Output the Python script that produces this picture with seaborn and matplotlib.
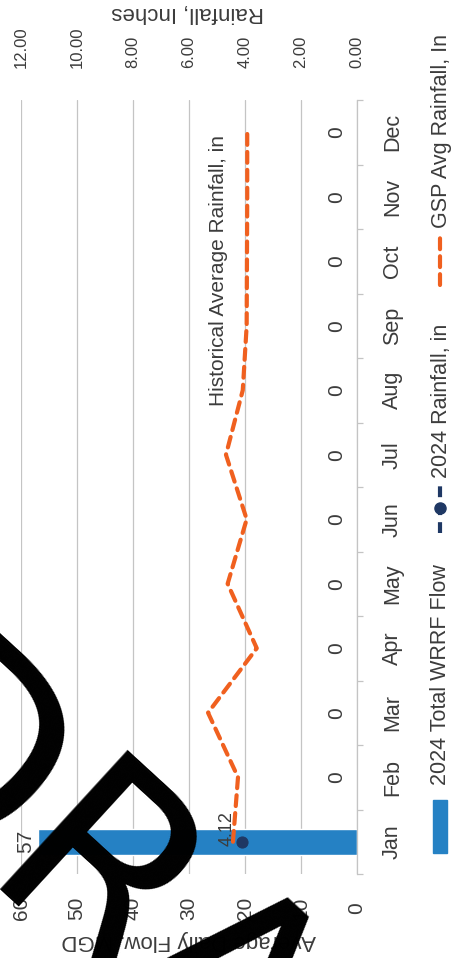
import numpy as np
import pandas as pd
import matplotlib
matplotlib.use("Agg")
import matplotlib.pyplot as plt
import seaborn as sns
from matplotlib import font_manager
from matplotlib.patches import Rectangle
from matplotlib.lines import Line2D

# ---------------- data ----------------
months = ["Jan", "Feb", "Mar", "Apr", "May", "Jun",
          "Jul", "Aug", "Sep", "Oct", "Nov", "Dec"]
flow_2024 = [57, 0, 0, 0, 0, 0, 0, 0, 0, 0, 0, 0]
rain_2024 = [4.12, np.nan, np.nan, np.nan, np.nan, np.nan,
             np.nan, np.nan, np.nan, np.nan, np.nan, np.nan]
gsp_avg_rain = [4.43, 4.25, 5.32, 3.58, 4.62, 3.94,
                4.68, 4.08, 3.94, 3.93, 3.92, 3.92]
flow_ticks = [0, 10, 20, 30, 40, 50, 60]
rain_ticks = [0, 2, 4, 6, 8, 10, 12]
legend_labels = ["2024 Total WRRF Flow", "2024 Rainfall, in", "GSP Avg Rainfall, In"]
flow_axis_label = "Average Daily Flow, MGD"
rain_axis_label = "Rainfall, Inches"
note_text = "Historical Average Rainfall, in"
watermark = "DRAFT"

# ---------------- style ----------------
sns.set_theme(style="white")


def pick(fams):
    for f in fams:
        try:
            font_manager.findfont(font_manager.FontProperties(family=f),
                                  fallback_to_default=False)
            return f
        except Exception:
            pass
    return "DejaVu Sans"


FONT = pick(["Liberation Sans", "DejaVu Sans"])
plt.rcParams["font.family"] = [FONT, "DejaVu Sans"]

BLUE = "#2581C4"
NAVY = "#1F3864"
ORANGE = "#F0601F"
TEXT = "#3C3C3C"
GRID = "#C4C4C4"

W, H = 451, 958
fig = plt.figure(figsize=(W / 100, H / 100), dpi=100, facecolor="white")


def fx(px):
    return px / W


def fy(py):
    return 1 - py / H


ax = fig.add_axes([fx(21), fy(874), fx(357) - fx(21), fy(100) - fy(874)])

df = pd.DataFrame({
    "month": months,
    "pos": np.arange(len(months)),
    "flow": flow_2024,
    "rain": rain_2024,
    "gsp": gsp_avg_rain,
})

sns.barplot(data=df, x="flow", y="month", order=months, orient="h",
            color=BLUE, width=0.4, saturation=1, ax=ax, zorder=2)
ax.set_xlim(60, 0)
ax.set_axisbelow(True)
ax.grid(axis="x", color=GRID, lw=0.9)
ax.grid(axis="y", visible=False)
for s in ["left", "top", "bottom"]:
    ax.spines[s].set_visible(False)
ax.spines["right"].set_color(GRID)
ax.spines["right"].set_linewidth(0.9)

ax.set_xticks(flow_ticks)
ax.set_xticklabels([str(t) for t in flow_ticks], rotation=90,
                   va="center", ha="center")
ax.tick_params(axis="x", length=0, pad=24.5, labelsize=15, labelcolor=TEXT)

ax.yaxis.tick_right()
ax.set_yticks(np.arange(len(months)))
ax.set_yticklabels(months, rotation=90, va="center", ha="left")
ax.set_yticks(np.arange(-0.5, len(months), 1), minor=True)
ax.tick_params(axis="y", which="major", length=0, pad=18,
               labelsize=15.5, labelcolor=TEXT)
ax.tick_params(axis="y", which="minor", length=4.5, width=0.9,
               color=GRID, right=True, left=False)
ax.set_xlabel("")
ax.set_ylabel("")

for i, v in enumerate(flow_2024):
    off = 8.6 if v > 0 else 14.4
    ax.annotate(f"{v:g}", xy=(v, i), xytext=(-off, 0),
                textcoords="offset points", rotation=90,
                ha="center", va="center", fontsize=15, color=TEXT)

# secondary (rainfall) axis
ax2 = ax.twiny()
sns.lineplot(data=df, x="gsp", y="pos", orient="y", sort=False, ax=ax2,
             color=ORANGE, lw=3, linestyle=(0, (2.6, 1.7)),
             dash_capstyle="round", zorder=3)
sns.lineplot(data=df.dropna(subset=["rain"]), x="rain", y="pos",
             orient="y", sort=False, ax=ax2, color=NAVY, lw=3,
             marker="o", markersize=8, markeredgecolor=NAVY,
             linestyle=(0, (2.6, 1.7)), zorder=4)
ax2.set_xlim(12, 0)
ax2.set_xticks(rain_ticks)
ax2.set_xticklabels([f"{t:.2f}" for t in rain_ticks], rotation=90,
                    va="bottom", ha="center")
ax2.tick_params(axis="x", length=0, pad=23, labelsize=12, labelcolor=TEXT)
ax2.set_xlabel("")
ax2.set_ylabel("")
for s in ax2.spines.values():
    s.set_visible(False)
ax2.grid(False)

for i, v in enumerate(rain_2024):
    if not np.isnan(v):
        ax2.annotate(f"{v:.2f}", xy=(v, i), xytext=(-10.8, 9.4),
                     textcoords="offset points", rotation=90,
                     ha="center", va="center", fontsize=13, color=TEXT)

ax.set_ylim(-0.5, len(months) - 0.5)

# axis titles
fig.text(fx(188), fy(12), rain_axis_label, rotation=180, ha="center",
         va="center", fontsize=16, color=TEXT)
fig.text(fx(189), fy(940), flow_axis_label, rotation=180, ha="center",
         va="center", fontsize=16, color=TEXT)
fig.text(fx(218), fy(271), note_text, rotation=90, ha="center",
         va="center", fontsize=15, color=TEXT)

# legend (drawn rotated by hand)
fig.patches.append(Rectangle((fx(433), fy(853)), fx(447) - fx(433),
                             fy(800) - fy(853), transform=fig.transFigure,
                             color=BLUE))
fig.lines.append(Line2D([fx(440), fx(440)], [fy(533), fy(482)],
                        transform=fig.transFigure, color=NAVY, lw=3,
                        linestyle=(0, (2.6, 1.7))))
fig.lines.append(Line2D([fx(440)], [fy(508)], transform=fig.transFigure,
                        color=NAVY, marker="o", markersize=8))
fig.lines.append(Line2D([fx(440), fx(440)], [fy(285), fy(232)],
                        transform=fig.transFigure, color=ORANGE, lw=3,
                        linestyle=(0, (2.6, 1.7)), dash_capstyle="round"))
for lab, ybot in zip(legend_labels, [785, 478, 228]):
    fig.text(fx(441), fy(ybot), lab, rotation=90, ha="center", va="bottom",
             fontsize=15.5, color=TEXT)

# watermark (partly off the page, as in the reference)
fig.text(-172 / W, fy(755), watermark, rotation=-42.5,
         rotation_mode="anchor", ha="left", va="baseline",
         fontsize=186, color="black", family="DejaVu Sans", zorder=100)

fig.savefig("out.png", dpi=100, facecolor="white")
